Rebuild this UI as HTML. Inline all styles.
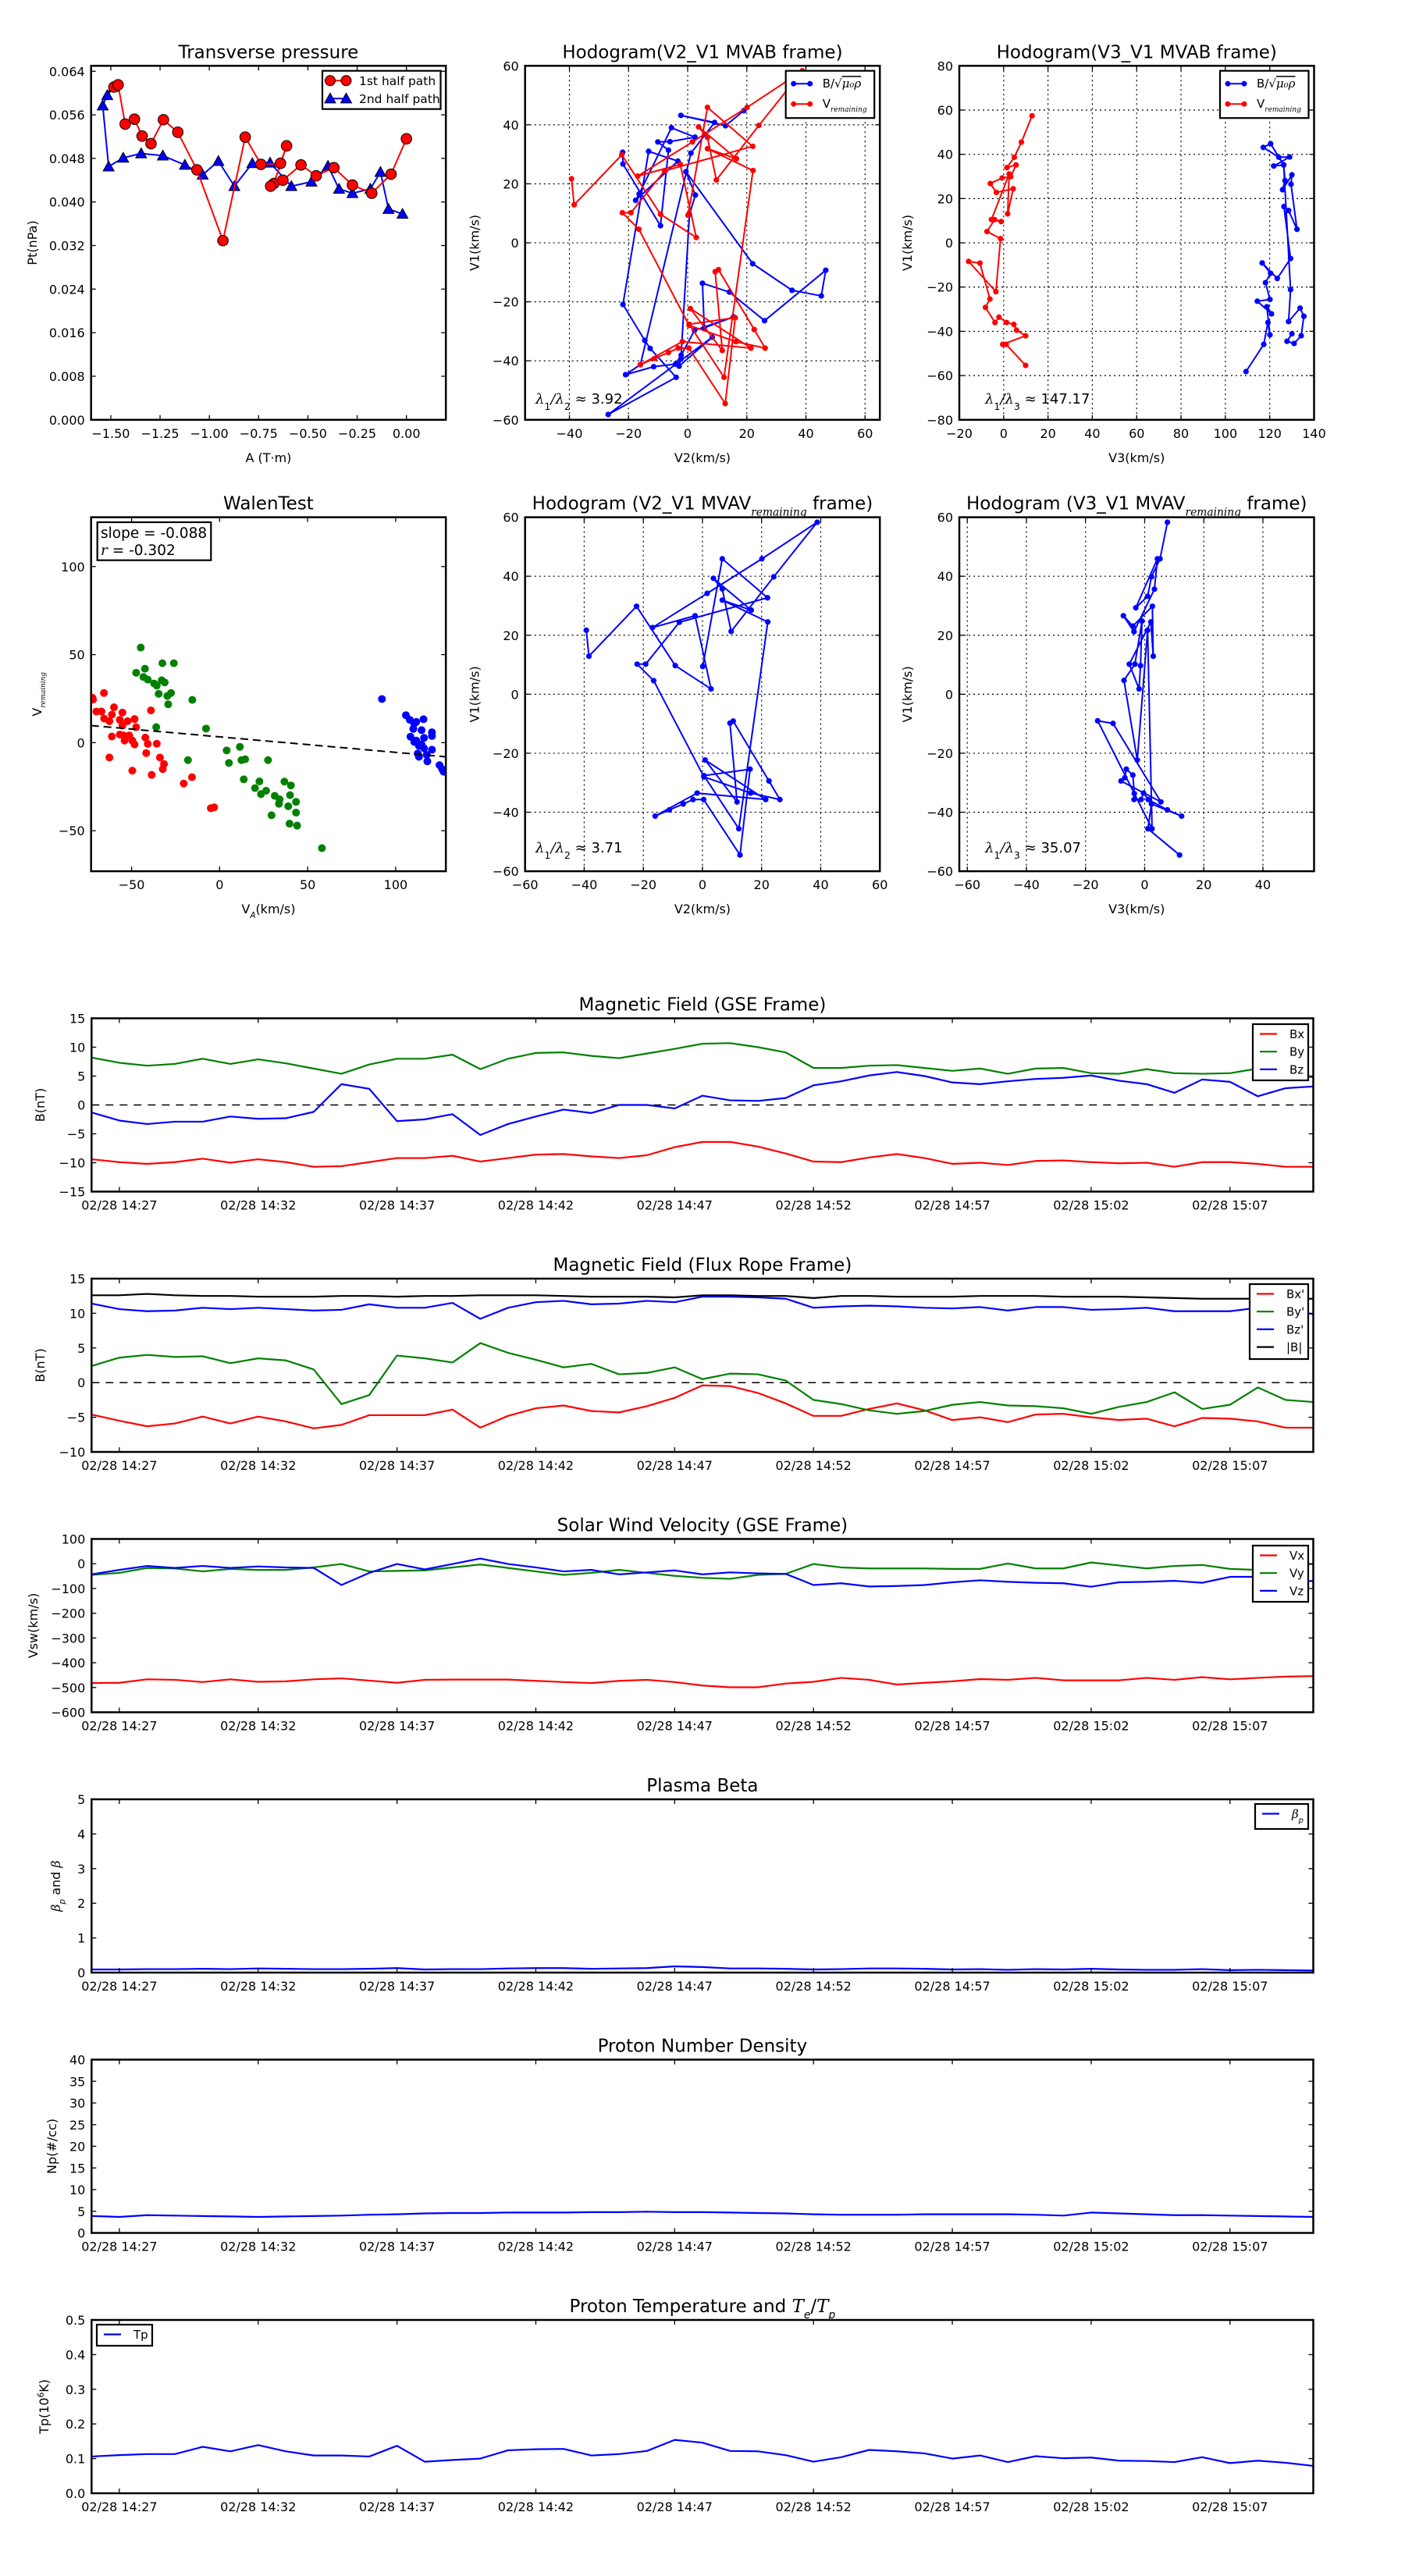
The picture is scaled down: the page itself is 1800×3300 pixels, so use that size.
<!DOCTYPE html>
<html><head><meta charset="utf-8"><title>Flux rope analysis</title>
<style>
html,body{margin:0;padding:0;background:#fff;}
svg{display:block;}
text{font-family:"DejaVu Sans","Liberation Sans",sans-serif;fill:#000;}
</style></head>
<body>
<svg id="fig" xmlns="http://www.w3.org/2000/svg" width="1800" height="3300" viewBox="0 0 1800 3300">
<rect x="0" y="0" width="1800" height="3300" fill="#fff"/>
<defs id="defs"></defs>
</svg>
<script>
// ===== Transverse pressure data =====
const tpRedA = [-1.484,-1.463,-1.427,-1.380,-1.341,-1.296,-1.233,-1.160,-1.063,-0.931,-0.818,-0.738,-0.639,-0.608,-0.672,-0.689,-0.627,-0.535,-0.458,-0.368,-0.274,-0.176,-0.078,0.0];
const tpRedP = [0.0611,0.0615,0.0543,0.0552,0.0521,0.0507,0.0551,0.0528,0.0459,0.0329,0.0519,0.0469,0.0471,0.0503,0.0434,0.0429,0.0440,0.0468,0.0448,0.0463,0.0431,0.0416,0.0451,0.0516];
const tpBlueA = [-1.484,-1.518,-1.541,-1.511,-1.437,-1.346,-1.236,-1.124,-1.034,-0.954,-0.873,-0.782,-0.692,-0.584,-0.482,-0.398,-0.342,-0.274,-0.183,-0.132,-0.091,-0.020];
const tpBlueP = [0.0611,0.0596,0.0577,0.0465,0.0481,0.0489,0.0485,0.0468,0.0450,0.0475,0.0429,0.0471,0.0472,0.0429,0.0437,0.0466,0.0424,0.0416,0.0424,0.0455,0.0387,0.0378];
const tpXTicks = [-1.5,-1.25,-1.0,-0.75,-0.5,-0.25,0.0];
const tpXLabels = ['\u22121.50','\u22121.25','\u22121.00','\u22120.75','\u22120.50','\u22120.25','0.00'];
const tpYTicks = [0,0.008,0.016,0.024,0.032,0.040,0.048,0.056,0.064];
const tpYLabels = ['0.000','0.008','0.016','0.024','0.032','0.040','0.048','0.056','0.064'];

// ===== Hodogram MVAB V2-V1 =====
const hB2 = [-22.0,-21.9,-9.2,-6.5,-10.1,-6.0,2.5,-5.5,-16.4,-17.6,-3.3,-13.2,-21.9,-14.5,-12.7,-3.9,-26.9,8.3,-2.9,-2.3,0.6,2.6,-0.6,22.0,35.3,45.2,46.7,26.0,14.1,5.0,5.6,15.5,2.3,-2.2,-4.1,-11.5,-21.0,-16.0,1.1,9.1,-2.3,12.8,19.0];
const hB1 = [30.7,26.7,5.8,31.4,34.2,34.3,35.8,39.0,16.6,14.4,27.7,31.0,-20.9,-33.1,-35.8,-45.6,-58.2,-32.0,-41.8,-39.4,9.6,16.2,24.1,-7.1,-16.1,-18.0,-9.3,-26.4,-16.7,-13.7,-28.8,-25.1,-29.7,-38.1,-41.1,-42.0,-44.7,-41.3,30.4,40.8,43.2,39.7,44.8];
const hV2 = [-39.3,-38.4,-22.3,-9.2,2.9,-2.5,-16.9,1.6,20.1,38.8,24.1,9.7,6.7,3.7,16.5,6.7,22.1,12.3,0.5,16.1,12.7,0.4,-3.2,-6.5,-11.2,-16.0,-1.8,21.4,0.9,11.7,9.3,10.4,22.5,26.2,16.3,0.5,-16.5,-22.1,-19.2,-7.8,22.0,6.7,0.1];
const hV1 = [21.7,12.9,29.8,9.7,1.8,26.6,22.6,34.2,45.9,58.3,39.8,21.3,35.7,39.3,28.5,31.9,24.5,-45.6,-27.6,-25.4,-54.5,-35.7,-35.7,-37.2,-39.2,-41.3,-33.5,-35.7,-22.3,-36.5,-9.8,-9.1,-29.4,-35.7,-33.5,-28.0,4.6,10.2,10.2,24.4,32.7,45.9,9.4];

// ===== Hodogram MVAB V3-V1 =====
const hR3x = [12.8,8.0,4.8,1.5,5.6,3.2,-0.7,-6.0,-3.3,4.3,1.8,2.5,-5.5,-1.1,-4.1,-7.5,-1.4,-3.5,-15.8,-10.7,-6.2,-8.2,-3.9,-2.1,1.3,4.6,5.8,9.9,-0.4,1.1,9.9];
const hR3y = [57.4,45.5,38.7,34.0,35.2,29.9,29.3,26.8,22.8,24.4,13.1,31.1,10.5,9.6,10.5,5.1,1.9,-22.1,-8.4,-9.2,-25.4,-29.2,-36.0,-33.6,-36.0,-36.9,-39.5,-42.0,-45.9,-45.9,-55.4];
const hB3x = [109.3,117.3,119.2,120.1,118.7,120.8,114.4,120.1,118.1,120.4,116.6,123.4,129.4,126.4,128.5,132.3,129.6,130.0,125.8,126.9,126.3,121.8,129.0,124.1,117.1,120.4,126.3,129.4,128.5,133.7,135.4,134.2,131.0,127.8,130.0];
const hB3y = [-58.2,-45.9,-36.0,-41.6,-28.9,-32.1,-26.4,-25.6,-18.0,-13.8,-9.1,-16.1,-7.1,16.4,14.6,6.1,26.5,30.7,24.0,28.1,35.2,34.7,38.8,38.7,43.1,44.8,35.2,-21.2,-35.6,-29.5,-33.2,-42.0,-45.5,-44.5,-41.1];

// ===== Walen test =====
const wRedX = [-72.2,-71.9,-65.7,-70,-67.1,-60,-55.2,-61.2,-65.6,-62.6,-56.7,-52.3,-48.3,-55.2,-47.4,-39.0,-61.2,-56.7,-54.0,-49.6,-48.3,-42.2,-40.8,-35.7,-41.7,-33.9,-31.6,-32.3,-62.6,-49.6,-38.6,-20.4,-15.7,-5.0,-3.1,-51.3,-54.5];
const wRedY = [25.5,24.5,28.2,17.7,17.7,20.1,17.1,15.9,13.7,12.2,13.0,12.2,13.4,9.7,8.8,18.3,3.5,4.6,1.2,1.2,-1.0,2.9,-0.7,-0.6,-5.9,-8.4,-12.1,-15.0,-8.4,-15.9,-18.3,-23.2,-19.6,-37.2,-36.7,4.1,4.1];
const wGreenX = [-44.8,-42.4,-47.4,-32.5,-26,-43.3,-40.8,-37.2,-35.7,-32.9,-31.2,-34.6,-29.7,-27.6,-29.2,-15.5,-36,-7.7,-18.0,4.0,11.5,5.3,12.4,14.5,27.5,13.7,22.6,20.1,26.4,23.5,31.3,34.1,33.7,36.8,40.5,40.0,43.4,39.0,43.4,29.5,39.7,44.0,58.1];
const wGreenY = [54,42,39.7,45.1,45.1,37.3,35.8,33.6,32.4,35.4,34.2,27.7,26.5,28.2,21.8,24.3,8.8,8.0,-9.9,-4.4,-2.4,-11.5,-9.9,-9.4,-9.9,-20.8,-22.0,-25.8,-27.3,-29.2,-30.2,-32.2,-34.7,-22.1,-24.3,-29.8,-33.6,-36.1,-39.7,-41.2,-46.0,-47.1,-59.9];
const wBlueX = [92.2,105.8,108.0,110.5,111.7,115.8,110,114.7,120.6,108.4,111.7,116.1,120.6,114.7,120.6,116.1,112.5,113.2,117.6,118,124.9,126.4,127.2,110.6,113.2];
const wBlueY = [24.8,15.6,13.0,10.8,11.8,13.3,7.8,7.1,5.9,3.4,1.2,2.7,3.8,-1.0,-4.0,-3.2,-6.2,-8.0,-6.9,-10.6,-12.8,-15.0,-16.5,0.4,-1.8];
const wFit = [3.3,-0.088]; // intercept, slope

// ===== Hodogram MVAV V3-V1 =====
const hM3x = [7.7,5.2,2.3,1.0,-3.0,4.3,3.3,-3.6,-7.2,-4.0,2.6,2.9,2.1,-5.2,-1.9,-1.4,-0.9,-3.3,-7.0,-2.5,1.0,2.5,-15.9,-10.7,5.5,-8.0,-6.7,-6.2,-4.0,-3.5,-3.6,-1.2,-0.4,1.2,7.7,12.5,2.3,1.1,11.8];
const hM3y = [58.3,45.9,39.8,33.2,29.3,45.9,35.6,21.2,26.6,23.1,29.8,12.9,24.5,10.2,1.8,9.7,24.8,10.2,4.7,-22.3,21.7,-45.6,-9.0,-9.9,-36.5,-29.4,-28.3,-25.4,-27.4,-33.7,-35.7,-35.7,-33.5,-35.7,-39.2,-41.3,-37.2,-45.6,-54.5];

// ===== Time series (1-min cadence from 14:26 to 15:10) =====
const tTickIdx = [1,6,11,16,21,26,31,36,41];
const tTickLabels = ['02/28 14:27','02/28 14:32','02/28 14:37','02/28 14:42','02/28 14:47','02/28 14:52','02/28 14:57','02/28 15:02','02/28 15:07'];
const gseBx = [-9.4,-9.9,-10.2,-9.9,-9.3,-10.0,-9.4,-9.9,-10.7,-10.6,-9.9,-9.2,-9.2,-8.8,-9.8,-9.2,-8.6,-8.5,-8.9,-9.2,-8.7,-7.3,-6.4,-6.4,-7.2,-8.4,-9.8,-9.9,-9.1,-8.5,-9.2,-10.2,-10.0,-10.4,-9.7,-9.6,-9.9,-10.1,-10.0,-10.7,-9.9,-9.9,-10.2,-10.7,-10.7];
const gseBy = [8.2,7.3,6.8,7.1,8.0,7.1,7.9,7.2,6.3,5.4,7.0,8.0,8.0,8.7,6.2,8.0,9.0,9.1,8.5,8.1,8.9,9.7,10.6,10.7,10.0,9.1,6.4,6.4,6.8,6.9,6.4,5.9,6.3,5.4,6.3,6.4,5.5,5.4,6.2,5.5,5.4,5.5,6.3,5.2,4.8];
const gseBz = [-1.3,-2.7,-3.3,-2.9,-2.9,-2.0,-2.4,-2.3,-1.2,3.6,2.8,-2.8,-2.5,-1.6,-5.2,-3.3,-2.0,-0.8,-1.4,0.0,0.0,-0.6,1.6,0.8,0.7,1.2,3.4,4.1,5.1,5.7,5.0,3.9,3.6,4.1,4.5,4.7,5.1,4.2,3.6,2.1,4.4,4.0,1.5,2.9,3.2];
const frBx = [-4.6,-5.5,-6.3,-5.9,-4.9,-5.9,-4.9,-5.6,-6.6,-6.1,-4.7,-4.7,-4.7,-3.9,-6.5,-4.8,-3.7,-3.3,-4.1,-4.3,-3.4,-2.2,-0.4,-0.5,-1.5,-3.0,-4.8,-4.8,-3.8,-3.0,-4.0,-5.4,-5.0,-5.7,-4.6,-4.5,-5.0,-5.4,-5.2,-6.3,-5.1,-5.2,-5.6,-6.5,-6.5];
const frBy = [2.4,3.6,4.0,3.7,3.8,2.8,3.5,3.2,1.9,-3.1,-1.8,3.9,3.5,2.9,5.7,4.3,3.3,2.2,2.7,1.2,1.4,2.2,0.5,1.3,1.2,0.3,-2.5,-3.1,-4.0,-4.5,-4.1,-3.2,-2.8,-3.3,-3.4,-3.7,-4.5,-3.5,-2.8,-1.4,-3.8,-3.2,-0.7,-2.5,-2.8];
const frBz = [11.4,10.6,10.3,10.4,10.8,10.6,10.8,10.6,10.4,10.5,11.3,10.8,10.8,11.5,9.2,10.8,11.6,11.8,11.3,11.4,11.8,11.6,12.4,12.4,12.3,12.1,10.8,11.0,11.1,11.0,10.8,10.7,10.9,10.4,10.9,10.9,10.5,10.6,10.8,10.3,10.3,10.3,10.8,10.2,9.9];
const frBt = [12.6,12.6,12.8,12.6,12.5,12.5,12.4,12.4,12.4,12.5,12.5,12.4,12.5,12.5,12.6,12.6,12.6,12.5,12.4,12.4,12.4,12.3,12.6,12.6,12.5,12.5,12.2,12.5,12.5,12.4,12.4,12.4,12.5,12.5,12.5,12.4,12.4,12.4,12.3,12.2,12.1,12.1,12.1,12.1,12.1];
const swVx = [-482,-481,-467,-469,-478,-467,-477,-475,-467,-463,-472,-481,-469,-468,-468,-468,-473,-478,-482,-473,-469,-478,-492,-499,-499,-484,-477,-461,-469,-488,-481,-475,-466,-469,-461,-471,-471,-471,-461,-469,-458,-467,-461,-456,-454];
const swVy = [-45,-37,-17,-19,-31,-21,-25,-25,-15,-1,-31,-29,-27,-15,-3,-17,-31,-45,-37,-25,-37,-49,-57,-61,-45,-41,-1,-15,-19,-19,-19,-21,-21,1,-19,-19,5,-7,-19,-9,-5,-21,-25,-9,-1];
const swVz = [-43,-25,-9,-17,-9,-17,-11,-15,-17,-86,-37,-1,-23,-1,21,-1,-15,-31,-25,-43,-35,-27,-43,-35,-39,-41,-86,-79,-92,-90,-86,-75,-67,-73,-77,-79,-93,-75,-73,-69,-77,-53,-53,-77,-69];
const betaP = [0.09,0.09,0.10,0.10,0.11,0.10,0.12,0.11,0.10,0.10,0.11,0.13,0.09,0.10,0.10,0.12,0.13,0.13,0.11,0.12,0.13,0.18,0.16,0.12,0.12,0.11,0.09,0.10,0.12,0.12,0.11,0.09,0.10,0.08,0.10,0.09,0.11,0.09,0.08,0.08,0.10,0.07,0.08,0.07,0.06];
const densNp = [3.9,3.7,4.1,4.0,3.9,3.8,3.7,3.8,3.9,4.0,4.2,4.3,4.5,4.6,4.6,4.7,4.7,4.7,4.8,4.8,4.9,4.8,4.8,4.7,4.6,4.5,4.3,4.2,4.2,4.2,4.3,4.3,4.3,4.3,4.2,4.0,4.7,4.5,4.3,4.1,4.1,4.0,3.9,3.8,3.7];
const tempTp = [0.106,0.110,0.113,0.113,0.134,0.121,0.139,0.121,0.109,0.109,0.106,0.137,0.091,0.096,0.100,0.124,0.127,0.128,0.109,0.113,0.122,0.154,0.146,0.122,0.121,0.110,0.091,0.104,0.125,0.121,0.115,0.100,0.109,0.090,0.107,0.101,0.103,0.094,0.093,0.090,0.104,0.087,0.094,0.088,0.079];

const NS = 'http://www.w3.org/2000/svg';
const svg = document.getElementById('fig');
const defs = document.getElementById('defs');
let clipId = 0;
function el(tag, attrs, parent) {
  const e = document.createElementNS(NS, tag);
  for (const k in attrs) e.setAttribute(k, attrs[k]);
  (parent || svg).appendChild(e);
  return e;
}
function txt(str, attrs, parent) {
  const t = el('text', attrs, parent);
  t.textContent = str;
  return t;
}
function tsp(parent, str, attrs) {
  const t = el('tspan', attrs || {}, parent);
  t.textContent = str;
  return t;
}

function axes(o) {
  const g = el('g', {});
  
  
  const sx = v => o.x0 + (v - o.xlim[0]) / (o.xlim[1] - o.xlim[0]) * o.w;
  const sy = v => o.y0 + o.h - (v - o.ylim[0]) / (o.ylim[1] - o.ylim[0]) * o.h;
  const cid = 'clip' + (clipId++);
  const cp = el('clipPath', {id: cid}, defs);
  el('rect', {x: o.x0, y: o.y0, width: o.w, height: o.h}, cp);
  const gridG = el('g', {}, g);
  
  
  const dataG = el('g', {'clip-path': 'url(#' + cid + ')'}, g);
  
  
  const frameG = el('g', {}, g);
  if (o.grid) {
    o.xticks.forEach(v => {
      const x = sx(v);
      const ln = el('line', {x1: x, x2: x, y1: o.y0, y2: o.y0 + o.h, stroke: '#000', 'stroke-width': 1.2, 'stroke-dasharray': '2,4'}, gridG);
      
    });
    o.yticks.forEach(v => {
      const y = sy(v);
      const ln = el('line', {x1: o.x0, x2: o.x0 + o.w, y1: y, y2: y, stroke: '#000', 'stroke-width': 1.2, 'stroke-dasharray': '2,4'}, gridG);
      
    });
  }
  // ticks
  o.xticks.forEach((v, i) => {
    const x = sx(v);
    el('line', {x1: x, x2: x, y1: o.y0 + o.h, y2: o.y0 + o.h - 6, stroke: '#000', 'stroke-width': 1.3}, frameG);
    el('line', {x1: x, x2: x, y1: o.y0, y2: o.y0 + 6, stroke: '#000', 'stroke-width': 1.3}, frameG);
    const t = txt(o.xlabels[i], {x: x, y: o.y0 + o.h + 23, 'text-anchor': 'middle', 'font-size': 16}, frameG);
    
    
  });
  o.yticks.forEach((v, i) => {
    const y = sy(v);
    el('line', {x1: o.x0, x2: o.x0 + 6, y1: y, y2: y, stroke: '#000', 'stroke-width': 1.3}, frameG);
    el('line', {x1: o.x0 + o.w, x2: o.x0 + o.w - 6, y1: y, y2: y, stroke: '#000', 'stroke-width': 1.3}, frameG);
    const t = txt(o.ylabels[i], {x: o.x0 - 8, y: y + 6, 'text-anchor': 'end', 'font-size': 16}, frameG);
    
    
  });
  const fr = el('rect', {x: o.x0, y: o.y0, width: o.w, height: o.h, fill: 'none', stroke: '#000', 'stroke-width': 2.5}, frameG);
  
  return {g, dataG, frameG, sx, sy, o};
}

function title(ax, build) {
  const t = el('text', {x: ax.o.x0 + ax.o.w / 2, y: ax.o.y0 - 10, 'text-anchor': 'middle', 'font-size': 23}, ax.frameG);
  
  
  if (typeof build === 'string') t.textContent = build; else build(t);
  return t;
}
function xlabel(ax, build, dy) {
  const t = el('text', {x: ax.o.x0 + ax.o.w / 2, y: ax.o.y0 + ax.o.h + (dy || 54), 'text-anchor': 'middle', 'font-size': 16}, ax.frameG);
  
  
  if (typeof build === 'string') t.textContent = build; else build(t);
}
function ylabel(ax, build, cx) {
  const cy = ax.o.y0 + ax.o.h / 2;
  const t = el('text', {x: cx, y: cy, 'text-anchor': 'middle', 'font-size': 16, transform: 'rotate(-90 ' + cx + ' ' + cy + ')', dy: 5}, ax.frameG);
  
  
  if (typeof build === 'string') t.textContent = build; else build(t);
}

function pathLine(ax, xs, ys, color, width, name) {
  let d = '';
  for (let i = 0; i < xs.length; i++) d += (i ? 'L' : 'M') + ax.sx(xs[i]).toFixed(2) + ',' + ax.sy(ys[i]).toFixed(2);
  const p = el('path', {d: d, fill: 'none', stroke: color, 'stroke-width': width, 'stroke-linejoin': 'round'}, ax.dataG);
  
  
  return p;
}
function dots(ax, xs, ys, color, r, name, stroke) {
  for (let i = 0; i < xs.length; i++) {
    const c = el('circle', {cx: ax.sx(xs[i]), cy: ax.sy(ys[i]), r: r, fill: color, stroke: stroke || 'none', 'stroke-width': 1}, ax.dataG);
    
    
  }
}
function tris(ax, xs, ys, color, s, name) {
  for (let i = 0; i < xs.length; i++) {
    const x = ax.sx(xs[i]), y = ax.sy(ys[i]);
    const p = el('polygon', {points: (x) + ',' + (y - s) + ' ' + (x - s) + ',' + (y + s * 0.8) + ' ' + (x + s) + ',' + (y + s * 0.8), fill: color, stroke: '#000', 'stroke-width': 1}, ax.dataG);
    
    
  }
}
function legendBox(parent, x1, y1, x2, y2, name) {
  const g = el('g', {}, parent);
  
  
  el('rect', {x: x1, y: y1, width: x2 - x1, height: y2 - y1, fill: '#fff', stroke: '#000', 'stroke-width': 2.2}, g);
  return g;
}
function bLabel(t) {
  tsp(t, 'B/\u221A');
  tsp(t, '\u03BC\u2080\u03C1', {'font-style': 'italic', 'text-decoration': 'overline', 'font-family': 'DejaVu Serif, serif'});
}
function vRemLabel(t, small) {
  tsp(t, 'V');
  tsp(t, 'remaining', {'font-style': 'italic', 'font-size': small || '60%', 'baseline-shift': 'sub', 'font-family': 'DejaVu Serif, serif'});
}
function hodoLegend(ax, x1, y1) {
  const g = legendBox(ax.frameG, x1, y1, x1 + 113.5, y1 + 60.5, 'legend');
  const entries = [['#0000ff', bLabel], ['#ff0000', vRemLabel]];
  entries.forEach((e, i) => {
    const y = y1 + 16.5 + i * 26;
    el('line', {x1: x1 + 10, x2: x1 + 31, y1: y, y2: y, stroke: e[0], 'stroke-width': 2}, g);
    el('circle', {cx: x1 + 10, cy: y, r: 3.5, fill: e[0]}, g);
    el('circle', {cx: x1 + 31, cy: y, r: 3.5, fill: e[0]}, g);
    const t = el('text', {x: x1 + 47, y: y + 5, 'font-size': 15}, g);
    
    e[1](t);
  });
}
function lambdaText(ax, x, y, sub, val) {
  const t = el('text', {x: x, y: y, 'font-size': 18}, ax.frameG);
  
  
  tsp(t, '\u03BB', {'font-style': 'italic', 'font-family': 'DejaVu Serif, serif'});
  tsp(t, '1', {'font-size': '70%', 'baseline-shift': 'sub'});
  tsp(t, '/\u03BB', {'font-style': 'italic', 'font-family': 'DejaVu Serif, serif'});
  tsp(t, sub, {'font-size': '70%', 'baseline-shift': 'sub'});
  tsp(t, ' \u2248 ' + val);
}
function rng(a, b, s) { const r = []; for (let v = a; v <= b + 1e-9; v += s) r.push(Math.round(v * 1000) / 1000); return r; }
function lab(arr) { return arr.map(v => (v < 0 ? '\u2212' + Math.abs(v) : '' + v)); }

const W = 454.5, H = 453.5;
const C1 = 116.7, C2 = 672.7, C3 = 1229, R1 = 84.3, R2 = 662.6;

// ---- Transverse pressure ----
{
  const ax = axes({name: 'transverse-pressure-chart', x0: C1, y0: R1, w: W, h: H, xlim: [-1.6, 0.2], ylim: [0, 0.065], xticks: tpXTicks, xlabels: tpXLabels, yticks: tpYTicks, ylabels: tpYLabels});
  title(ax, 'Transverse pressure');
  xlabel(ax, 'A (T\u00B7m)');
  ylabel(ax, 'Pt(nPa)', 42);
  pathLine(ax, tpBlueA, tpBlueP, '#0000ff', 2, 'second-half-path-line');
  tris(ax, tpBlueA, tpBlueP, '#0000ff', 7, 'second-half-path-marker');
  pathLine(ax, tpRedA, tpRedP, '#ff0000', 2, 'first-half-path-line');
  dots(ax, tpRedA, tpRedP, '#ff0000', 6.8, 'first-half-path-marker', '#000');
  const g = legendBox(ax.frameG, 413, 90.7, 564.5, 139.7, 'legend');
  el('line', {x1: 423, x2: 443.5, y1: 103.3, y2: 103.3, stroke: '#ff0000', 'stroke-width': 2}, g);
  el('circle', {cx: 423, cy: 103.3, r: 6.5, fill: '#ff0000', stroke: '#000'}, g);
  el('circle', {cx: 443.5, cy: 103.3, r: 6.5, fill: '#ff0000', stroke: '#000'}, g);
  const t1 = txt('1st half path', {x: 460, y: 109, 'font-size': 15.5}, g);
  
  el('line', {x1: 423, x2: 443.5, y1: 126.3, y2: 126.3, stroke: '#0000ff', 'stroke-width': 2}, g);
  el('polygon', {points: '423,119.3 416,131.9 430,131.9', fill: '#0000ff', stroke: '#000'}, g);
  el('polygon', {points: '443.5,119.3 436.5,131.9 450.5,131.9', fill: '#0000ff', stroke: '#000'}, g);
  const t2 = txt('2nd half path', {x: 460, y: 132, 'font-size': 15.5}, g);
  
}
// ---- Hodogram V2 MVAB ----
{
  const yt = rng(-60, 60, 20);
  const ax = axes({name: 'hodogram-v2-mvab', x0: C2, y0: R1, w: W, h: H, xlim: [-55, 65], ylim: [-60, 60], xticks: rng(-40, 60, 20), xlabels: lab(rng(-40, 60, 20)), yticks: yt, ylabels: lab(yt), grid: true});
  title(ax, 'Hodogram(V2_V1 MVAB frame)');
  xlabel(ax, 'V2(km/s)');
  ylabel(ax, 'V1(km/s)', C2 - 64);
  pathLine(ax, hB2, hB1, '#0000ff', 2, 'b-alfven-path');
  dots(ax, hB2, hB1, '#0000ff', 3.6, 'b-alfven-point');
  pathLine(ax, hV2, hV1, '#ff0000', 2, 'v-remaining-path');
  dots(ax, hV2, hV1, '#ff0000', 3.6, 'v-remaining-point');
  hodoLegend(ax, 1006.7, 90.7);
  lambdaText(ax, 686, 517, '2', '3.92');
}
// ---- Hodogram V3 MVAB ----
{
  const yt = rng(-80, 80, 20);
  const ax = axes({name: 'hodogram-v3-mvab', x0: C3, y0: R1, w: W, h: H, xlim: [-20, 140], ylim: [-80, 80], xticks: rng(-20, 140, 20), xlabels: lab(rng(-20, 140, 20)), yticks: yt, ylabels: lab(yt), grid: true});
  title(ax, 'Hodogram(V3_V1 MVAB frame)');
  xlabel(ax, 'V3(km/s)');
  ylabel(ax, 'V1(km/s)', C3 - 66);
  pathLine(ax, hB3x, hB3y, '#0000ff', 2, 'b-alfven-path');
  dots(ax, hB3x, hB3y, '#0000ff', 3.6, 'b-alfven-point');
  pathLine(ax, hR3x, hR3y, '#ff0000', 2, 'v-remaining-path');
  dots(ax, hR3x, hR3y, '#ff0000', 3.6, 'v-remaining-point');
  hodoLegend(ax, 1563, 90.7);
  lambdaText(ax, 1262, 517, '3', '147.17');
}
// ---- Walen test ----
{
  const ax = axes({name: 'walen-test-chart', x0: C1, y0: R2, w: W, h: H, xlim: [-73, 128.5], ylim: [-73, 128], xticks: [-50, 0, 50, 100], xlabels: lab([-50, 0, 50, 100]), yticks: [-50, 0, 50, 100], ylabels: lab([-50, 0, 50, 100])});
  title(ax, 'WalenTest');
  xlabel(ax, t => { tsp(t, 'V'); tsp(t, 'A', {'font-size': '65%', 'baseline-shift': 'sub', 'font-style': 'italic'}); tsp(t, '(km/s)'); });
  ylabel(ax, t => vRemLabel(t, '55%'), 48);
  dots(ax, wRedX, wRedY, '#ff0000', 5, 'walen-point-red');
  dots(ax, wGreenX, wGreenY, '#008000', 5, 'walen-point-green');
  dots(ax, wBlueX, wBlueY, '#0000ff', 5, 'walen-point-blue');
  const fx = [-73, 128.5];
  const fy = fx.map(v => wFit[0] + wFit[1] * v);
  const fl = pathLine(ax, fx, fy, '#000', 2, 'regression-line');
  fl.setAttribute('stroke-dasharray', '10,6');
  const g = legendBox(ax.frameG, 124.7, 669, 270.3, 717.7, 'fit-stats-box');
  txt('slope = -0.088', {x: 129, y: 689, 'font-size': 18.5}, g);
  const t = el('text', {x: 129, y: 711, 'font-size': 18.5}, g);
  tsp(t, 'r', {'font-style': 'italic', 'font-family': 'DejaVu Serif, serif'});
  tsp(t, ' = -0.302');
}
// ---- Hodogram V2 MVAV ----
{
  const t6 = rng(-60, 60, 20);
  const ax = axes({name: 'hodogram-v2-mvav', x0: C2, y0: R2, w: W, h: H, xlim: [-60, 60], ylim: [-60, 60], xticks: t6, xlabels: lab(t6), yticks: t6, ylabels: lab(t6), grid: true});
  title(ax, t => { tsp(t, 'Hodogram (V2_V1 MVAV'); tsp(t, 'remaining', {'font-size': '60%', 'baseline-shift': 'sub', 'font-style': 'italic', 'font-family': 'DejaVu Serif, serif'}); tsp(t, ' frame)', {'baseline-shift': '0'}); });
  xlabel(ax, 'V2(km/s)');
  ylabel(ax, 'V1(km/s)', C2 - 64);
  pathLine(ax, hV2, hV1, '#0000ff', 2, 'v-remaining-path');
  dots(ax, hV2, hV1, '#0000ff', 3.6, 'v-remaining-point');
  lambdaText(ax, 686, 1092, '2', '3.71');
}
// ---- Hodogram V3 MVAV ----
{
  const t6 = rng(-60, 60, 20);
  const xt = rng(-60, 40, 20);
  const ax = axes({name: 'hodogram-v3-mvav', x0: C3, y0: R2, w: W, h: H, xlim: [-62.7, 57.3], ylim: [-60, 60], xticks: xt, xlabels: lab(xt), yticks: t6, ylabels: lab(t6), grid: true});
  title(ax, t => { tsp(t, 'Hodogram (V3_V1 MVAV'); tsp(t, 'remaining', {'font-size': '60%', 'baseline-shift': 'sub', 'font-style': 'italic', 'font-family': 'DejaVu Serif, serif'}); tsp(t, ' frame)'); });
  xlabel(ax, 'V3(km/s)');
  ylabel(ax, 'V1(km/s)', C3 - 66);
  pathLine(ax, hM3x, hM3y, '#0000ff', 2, 'v-remaining-path');
  dots(ax, hM3x, hM3y, '#0000ff', 3.6, 'v-remaining-point');
  lambdaText(ax, 1262, 1092, '3', '35.07');
}

// ---- Time series panels ----
const TX = 117.3, TW = 1682.5 - 117.3, TH = 222;
const idx = gseBx.map((_, i) => i);
function timePanel(o) {
  const ax = axes({name: o.name, x0: TX, y0: o.top, w: TW, h: TH, xlim: [0, 44], ylim: o.ylim, xticks: tTickIdx, xlabels: tTickLabels, yticks: o.yticks, ylabels: o.ylabels});
  title(ax, o.title);
  ylabel(ax, o.ylabel, o.ylx);
  if (o.zero) {
    const z = pathLine(ax, [0, 44], [0, 0], '#000', 1.5, 'zero-line');
    z.setAttribute('stroke-dasharray', '10,8');
  }
  o.series.forEach(s => pathLine(ax, idx, s.vals, s.color, 2.2, s.name));
  if (o.legend) {
    const L = o.legend;
    const g = legendBox(ax.frameG, L[0], L[1], L[2], L[3], 'legend');
    o.series.forEach((s, i) => {
      const y = L[1] + 12.5 + i * 22.7;
      el('line', {x1: L[0] + 9, x2: L[0] + 31, y1: y, y2: y, stroke: s.color, 'stroke-width': 2.2}, g);
      const t = el('text', {x: L[0] + 47, y: y + 5.5, 'font-size': 15}, g);
      
      if (typeof s.label === 'string') t.textContent = s.label; else s.label(t);
    });
  }
  return ax;
}
const tops = [1304.5, 1638, 1971.5, 2305, 2638.5, 2972];
timePanel({name: 'magnetic-field-gse-chart', top: tops[0], ylim: [-15, 15], yticks: rng(-15, 15, 5), ylabels: lab(rng(-15, 15, 5)), title: 'Magnetic Field (GSE Frame)', ylabel: 'B(nT)', ylx: 52, zero: true,
  series: [{name: 'bx-line', vals: gseBx, color: '#ff0000', label: 'Bx'}, {name: 'by-line', vals: gseBy, color: '#008000', label: 'By'}, {name: 'bz-line', vals: gseBz, color: '#0000ff', label: 'Bz'}],
  legend: [1605, 1312, 1676, 1384]});
timePanel({name: 'magnetic-field-flux-rope-chart', top: tops[1], ylim: [-10, 15], yticks: rng(-10, 15, 5), ylabels: lab(rng(-10, 15, 5)), title: 'Magnetic Field (Flux Rope Frame)', ylabel: 'B(nT)', ylx: 52, zero: true,
  series: [{name: 'bx-prime-line', vals: frBx, color: '#ff0000', label: "Bx'"}, {name: 'by-prime-line', vals: frBy, color: '#008000', label: "By'"}, {name: 'bz-prime-line', vals: frBz, color: '#0000ff', label: "Bz'"}, {name: 'b-total-line', vals: frBt, color: '#000000', label: '|B|'}],
  legend: [1601, 1645, 1676, 1741]});
timePanel({name: 'solar-wind-velocity-chart', top: tops[2], ylim: [-600, 100], yticks: rng(-600, 100, 100), ylabels: lab(rng(-600, 100, 100)), title: 'Solar Wind Velocity (GSE Frame)', ylabel: 'Vsw(km/s)', ylx: 43,
  series: [{name: 'vx-line', vals: swVx, color: '#ff0000', label: 'Vx'}, {name: 'vy-line', vals: swVy, color: '#008000', label: 'Vy'}, {name: 'vz-line', vals: swVz, color: '#0000ff', label: 'Vz'}],
  legend: [1605, 1980, 1676, 2052]});
timePanel({name: 'plasma-beta-chart', top: tops[3], ylim: [0, 5], yticks: rng(0, 5, 1), ylabels: lab(rng(0, 5, 1)), title: 'Plasma Beta',
  ylabel: t => { tsp(t, '\u03B2', {'font-style': 'italic', 'font-family': 'DejaVu Serif, serif'}); tsp(t, 'p', {'font-size': '65%', 'baseline-shift': 'sub', 'font-style': 'italic'}); tsp(t, ' and '); tsp(t, '\u03B2', {'font-style': 'italic', 'font-family': 'DejaVu Serif, serif'}); }, ylx: 72,
  series: [{name: 'beta-p-line', vals: betaP, color: '#0000ff', label: t => { tsp(t, '\u03B2', {'font-style': 'italic', 'font-family': 'DejaVu Serif, serif'}); tsp(t, 'p', {'font-size': '65%', 'baseline-shift': 'sub', 'font-style': 'italic'}); }}],
  legend: [1608, 2311, 1676, 2343]});
timePanel({name: 'proton-density-chart', top: tops[4], ylim: [0, 40], yticks: rng(0, 40, 5), ylabels: lab(rng(0, 40, 5)), title: 'Proton Number Density', ylabel: 'Np(#/cc)', ylx: 67,
  series: [{name: 'np-line', vals: densNp, color: '#0000ff', label: 'Np'}]});
timePanel({name: 'proton-temperature-chart', top: tops[5], ylim: [0, 0.5], yticks: [0, 0.1, 0.2, 0.3, 0.4, 0.5], ylabels: ['0.0', '0.1', '0.2', '0.3', '0.4', '0.5'],
  title: t => { tsp(t, 'Proton Temperature and '); tsp(t, 'T', {'font-style': 'italic', 'font-family': 'DejaVu Serif, serif'}); tsp(t, 'e', {'font-size': '60%', 'baseline-shift': 'sub', 'font-style': 'italic'}); tsp(t, '/', {'baseline-shift': '0'}); tsp(t, 'T', {'font-style': 'italic', 'font-family': 'DejaVu Serif, serif'}); tsp(t, 'p', {'font-size': '60%', 'baseline-shift': 'sub', 'font-style': 'italic'}); },
  ylabel: t => { tsp(t, 'Tp(10'); tsp(t, '6', {'font-size': '65%', 'baseline-shift': 'super'}); tsp(t, 'K)'); }, ylx: 57,
  series: [{name: 'tp-line', vals: tempTp, color: '#0000ff', label: 'Tp'}],
  legend: [124, 2978, 195, 3005]});
</script>
</body></html>
